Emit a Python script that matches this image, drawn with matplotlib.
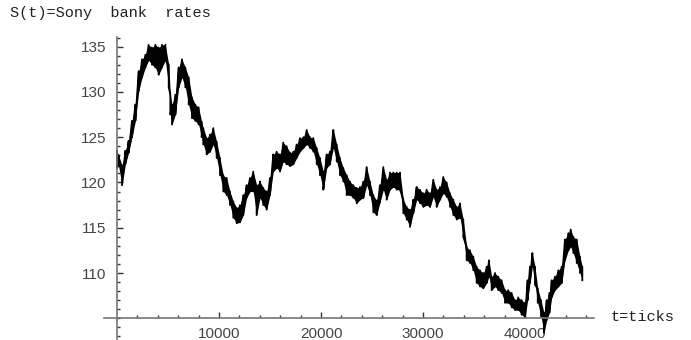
import numpy as np
import matplotlib
matplotlib.use("Agg")
import matplotlib.pyplot as plt
from matplotlib.ticker import MultipleLocator, FixedLocator

# ticks, with the top and bottom of the noisy trace
t = [0, 160, 490, 820, 1140, 1470, 1800, 2130, 2450, 2780, 3100, 3430, 3760,
     4080, 4410, 4740, 5070, 5230, 5390, 5720, 6050, 6370, 6700, 7030, 7350,
     7680, 8000, 8300, 8460, 8790, 9120, 9440, 9770, 10100, 10420, 10750,
     11080, 11400, 11730, 12060, 12380, 12710, 13040, 13360, 13690, 14020,
     14340, 14670, 15000, 15320, 15650, 15980, 16300, 16630, 16960, 17290,
     17610, 17940, 18270, 18600, 18920, 19250, 19580, 19900, 20230, 20560,
     20880, 21210, 21540, 21860, 22190, 22520, 22840, 23170, 23500, 23820,
     24150, 24480, 24800, 25130, 25460, 25780, 26110, 26440, 26770, 27090,
     27420, 27750, 28070, 28400, 28730, 29050, 29380, 29710, 30030, 30360,
     30690, 31010, 31340, 31670, 31990, 32320, 32650, 32970, 33300, 33630,
     33950, 34280, 34610, 34930, 35260, 35590, 35910, 36240, 36470, 36730,
     37060, 37380, 37710, 38040, 38360, 38690, 39020, 39340, 39670, 40000,
     40260, 40490, 40720, 40980, 41250, 41570, 41860, 42130, 42390, 42620,
     42940, 43270, 43600, 43920, 44250, 44480, 44740, 45070, 45390, 45620]
s_hi = [123.5, 123.0, 121.9, 123.5, 124.6, 126.8, 128.6, 132.3, 133.6, 134.1,
        135.2, 134.9, 135.2, 134.9, 135.2, 135.2, 133.0, 129.7, 128.6, 129.7,
        132.7, 133.6, 132.7, 131.6, 129.4, 128.6, 128.3, 126.7, 126.0, 124.9,
        125.3, 126.0, 124.5, 122.7, 120.8, 120.5, 119.0, 117.9, 117.2, 117.5,
        118.6, 119.7, 120.5, 121.2, 119.7, 120.1, 119.4, 119.0, 120.5, 123.1,
        123.4, 123.1, 124.4, 124.0, 123.3, 123.4, 124.2, 124.9, 125.0, 125.8,
        125.0, 124.9, 123.8, 122.7, 121.2, 123.1, 123.4, 125.8, 124.2, 122.7,
        121.6, 120.8, 120.1, 119.7, 119.4, 119.5, 120.1, 121.7, 120.1, 118.6,
        118.0, 119.7, 121.7, 120.3, 121.1, 121.1, 121.1, 121.1, 118.1, 117.3,
        117.0, 118.1, 119.5, 119.2, 118.8, 119.2, 118.8, 120.3, 119.2, 119.5,
        120.6, 120.0, 118.8, 118.1, 117.3, 117.7, 115.9, 112.9, 112.5, 111.8,
        110.7, 110.3, 110.0, 110.7, 111.4, 109.6, 110.0, 109.6, 109.2, 108.1,
        108.1, 107.8, 107.0, 107.3, 107.0, 106.7, 109.2, 110.7, 112.2, 110.7,
        108.3, 107.0, 105.6, 107.0, 107.8, 109.2, 109.6, 110.3, 110.7, 113.7,
        114.4, 114.8, 114.0, 113.7, 111.8, 110.7]
s_lo = [121.6, 121.8, 119.7, 122.0, 123.3, 125.0, 126.8, 130.1, 131.6, 132.7,
        133.5, 133.0, 132.7, 131.9, 132.7, 133.5, 130.5, 127.5, 126.4, 127.5,
        130.5, 131.6, 130.5, 128.6, 127.1, 126.8, 126.4, 125.0, 124.2, 123.1,
        123.4, 124.2, 122.7, 120.8, 119.0, 118.6, 117.5, 116.1, 115.5, 115.6,
        116.4, 118.3, 119.0, 119.0, 116.4, 118.3, 117.5, 117.0, 118.6, 121.2,
        121.6, 121.2, 122.3, 122.0, 121.8, 122.0, 122.7, 123.4, 123.8, 124.2,
        123.8, 123.4, 122.0, 120.8, 119.2, 121.6, 122.0, 123.8, 122.3, 120.8,
        120.1, 118.6, 118.6, 118.3, 117.7, 118.1, 118.3, 119.7, 118.6, 116.7,
        116.4, 117.8, 119.2, 118.1, 119.2, 119.5, 119.2, 119.2, 116.6, 115.9,
        115.1, 116.6, 118.1, 117.7, 117.3, 117.5, 117.3, 118.4, 117.3, 118.1,
        118.8, 118.4, 117.3, 116.4, 115.9, 116.1, 114.0, 111.4, 111.1, 110.3,
        108.9, 108.5, 108.3, 108.9, 109.6, 108.1, 108.5, 108.1, 107.8, 106.7,
        106.7, 106.2, 105.9, 105.9, 105.4, 105.1, 107.0, 108.9, 110.7, 108.7,
        106.7, 105.2, 103.4, 104.8, 105.6, 107.3, 108.1, 108.5, 108.9, 111.4,
        112.5, 112.9, 112.2, 111.1, 110.0, 109.2]

# trace goes top -> bottom at every reading, giving the jagged band
tt = np.repeat(t, 2)
ss = np.column_stack([s_hi, s_lo]).ravel()

fig = plt.figure(figsize=(6.91, 3.40), dpi=100)
ax = fig.add_axes([104 / 691, 0.0, 490 / 691, 303.3 / 340])
ax.fill_between(t, s_lo, s_hi, color="black", lw=0)
ax.plot(tt, ss, color="black", lw=1.3)

ax.set_xlim(-1275, 46765)
ax.set_ylim(102.6, 136.1)

for side in ["top", "right"]:
    ax.spines[side].set_visible(False)
ax.spines["left"].set_position(("data", 0))
ax.spines["bottom"].set_position(("data", 105))
for side in ["left", "bottom"]:
    ax.spines[side].set_color("#777777")
    ax.spines[side].set_linewidth(1.2)

ax.xaxis.set_major_locator(FixedLocator([10000, 20000, 30000, 40000]))
ax.xaxis.set_minor_locator(FixedLocator(np.arange(2000, 46001, 2000)))
ax.yaxis.set_major_locator(FixedLocator([110, 115, 120, 125, 130, 135]))
ax.yaxis.set_minor_locator(MultipleLocator(1))

ax.tick_params(which="both", direction="in", color="#333333", width=1.0)
ax.tick_params(which="major", length=4.0)
ax.tick_params(which="minor", length=2.0)
ax.tick_params(axis="x", pad=6, labelsize=11, labelcolor="#444444")
ax.tick_params(axis="y", pad=8, labelsize=11, labelcolor="#444444")
for lab in ax.get_xticklabels() + ax.get_yticklabels():
    lab.set_fontfamily("Liberation Sans")

fig.text(10 / 691, 1 - 13 / 340, "S(t)=Sony  bank  rates", family="Liberation Mono",
         fontsize=11, va="center", ha="left", color="#222222")
fig.text(611 / 691, 1 - 317 / 340, "t=ticks", family="Liberation Mono",
         fontsize=11, va="center", ha="left", color="#222222")

fig.savefig("out.png", dpi=100)
